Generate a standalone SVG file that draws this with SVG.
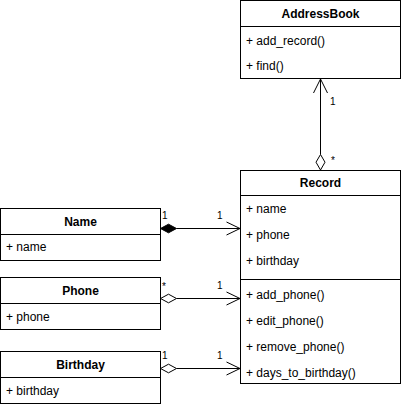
<svg xmlns="http://www.w3.org/2000/svg" width="402" height="407" viewBox="0 0 402 407">
<style>
.box{fill:#fff;stroke:#000;stroke-width:1}
.div{stroke:#000;stroke-width:1}
.t{font-family:"Liberation Sans",Arial,sans-serif;font-size:12px;fill:#000}
.h{font-family:"Liberation Sans",Arial,sans-serif;font-size:12px;font-weight:bold;fill:#000;text-anchor:middle}
.m{font-family:"Liberation Sans",Arial,sans-serif;font-size:10px;fill:#000}
.edge{fill:none;stroke:#000;stroke-width:1}
</style>
<rect width="402" height="407" fill="#fff"/>
<g id="connectors">
  <line class="edge" x1="320.5" y1="79" x2="320.5" y2="154.5"/>
  <polyline class="edge" points="313.5,93 320.5,79 327.5,93"/>
  <polygon points="320.5,170 316,162.2 320.5,154.5 325,162.2" fill="#fff" stroke="#000"/>
  <text class="m" x="330" y="105">1</text>
  <text class="m" x="331" y="164">*</text>

  <line class="edge" x1="176.5" y1="228.5" x2="240" y2="228.5"/>
  <polygon points="160.5,228.5 168.5,224.2 176.5,228.5 168.5,232.8" fill="#000" stroke="#000"/>
  <polyline class="edge" points="226.5,222 240,228.5 226.5,235"/>
  <text class="m" x="162" y="219">1</text>
  <text class="m" x="217" y="219">1</text>

  <line class="edge" x1="176.5" y1="298.5" x2="240" y2="298.5"/>
  <polygon points="160.5,298.5 168.5,294.2 176.5,298.5 168.5,302.8" fill="#fff" stroke="#000"/>
  <polyline class="edge" points="226.5,292 240,298.5 226.5,305"/>
  <text class="m" x="162" y="290">*</text>
  <text class="m" x="217" y="289">1</text>

  <line class="edge" x1="176.5" y1="368.5" x2="240" y2="368.5"/>
  <polygon points="160.5,368.5 168.5,364.2 176.5,368.5 168.5,372.8" fill="#fff" stroke="#000"/>
  <polyline class="edge" points="226.5,362 240,368.5 226.5,375"/>
  <text class="m" x="162" y="359">1</text>
  <text class="m" x="217" y="359">1</text>
</g>
<g id="AddressBook">
  <rect class="box" x="240.5" y="0.5" width="160" height="78"/>
  <line class="div" x1="240.5" y1="26.5" x2="400.5" y2="26.5"/>
  <text class="h" x="320.5" y="17.5">AddressBook</text>
  <text class="t" x="246" y="45">+ add_record()</text>
  <text class="t" x="246" y="70">+ find()</text>
</g>
<g id="Record">
  <rect class="box" x="240.5" y="170.5" width="160" height="213"/>
  <line class="div" x1="240.5" y1="195.5" x2="400.5" y2="195.5"/>
  <line class="div" x1="240.5" y1="279.5" x2="400.5" y2="279.5"/>
  <text class="h" x="320.5" y="187">Record</text>
  <text class="t" x="246" y="212.5">+ name</text>
  <text class="t" x="246" y="238.5">+ phone</text>
  <text class="t" x="246" y="264.5">+ birthday</text>
  <text class="t" x="246" y="298.5">+ add_phone()</text>
  <text class="t" x="246" y="324.5">+ edit_phone()</text>
  <text class="t" x="246" y="350.5">+ remove_phone()</text>
  <text class="t" x="246" y="376.5">+ days_to_birthday()</text>
</g>
<g id="Name">
  <rect class="box" x="0.5" y="208.5" width="160" height="52"/>
  <line class="div" x1="0.5" y1="234.5" x2="160.5" y2="234.5"/>
  <text class="h" x="80.5" y="225.5">Name</text>
  <text class="t" x="6" y="251">+ name</text>
</g>
<g id="Phone">
  <rect class="box" x="0.5" y="277.5" width="160" height="52"/>
  <line class="div" x1="0.5" y1="303.5" x2="160.5" y2="303.5"/>
  <text class="h" x="80.5" y="294.5">Phone</text>
  <text class="t" x="6" y="320.5">+ phone</text>
</g>
<g id="Birthday">
  <rect class="box" x="0.5" y="351.5" width="160" height="52"/>
  <line class="div" x1="0.5" y1="377.5" x2="160.5" y2="377.5"/>
  <text class="h" x="80.5" y="368.5">Birthday</text>
  <text class="t" x="6" y="394.5">+ birthday</text>
</g>
</svg>
